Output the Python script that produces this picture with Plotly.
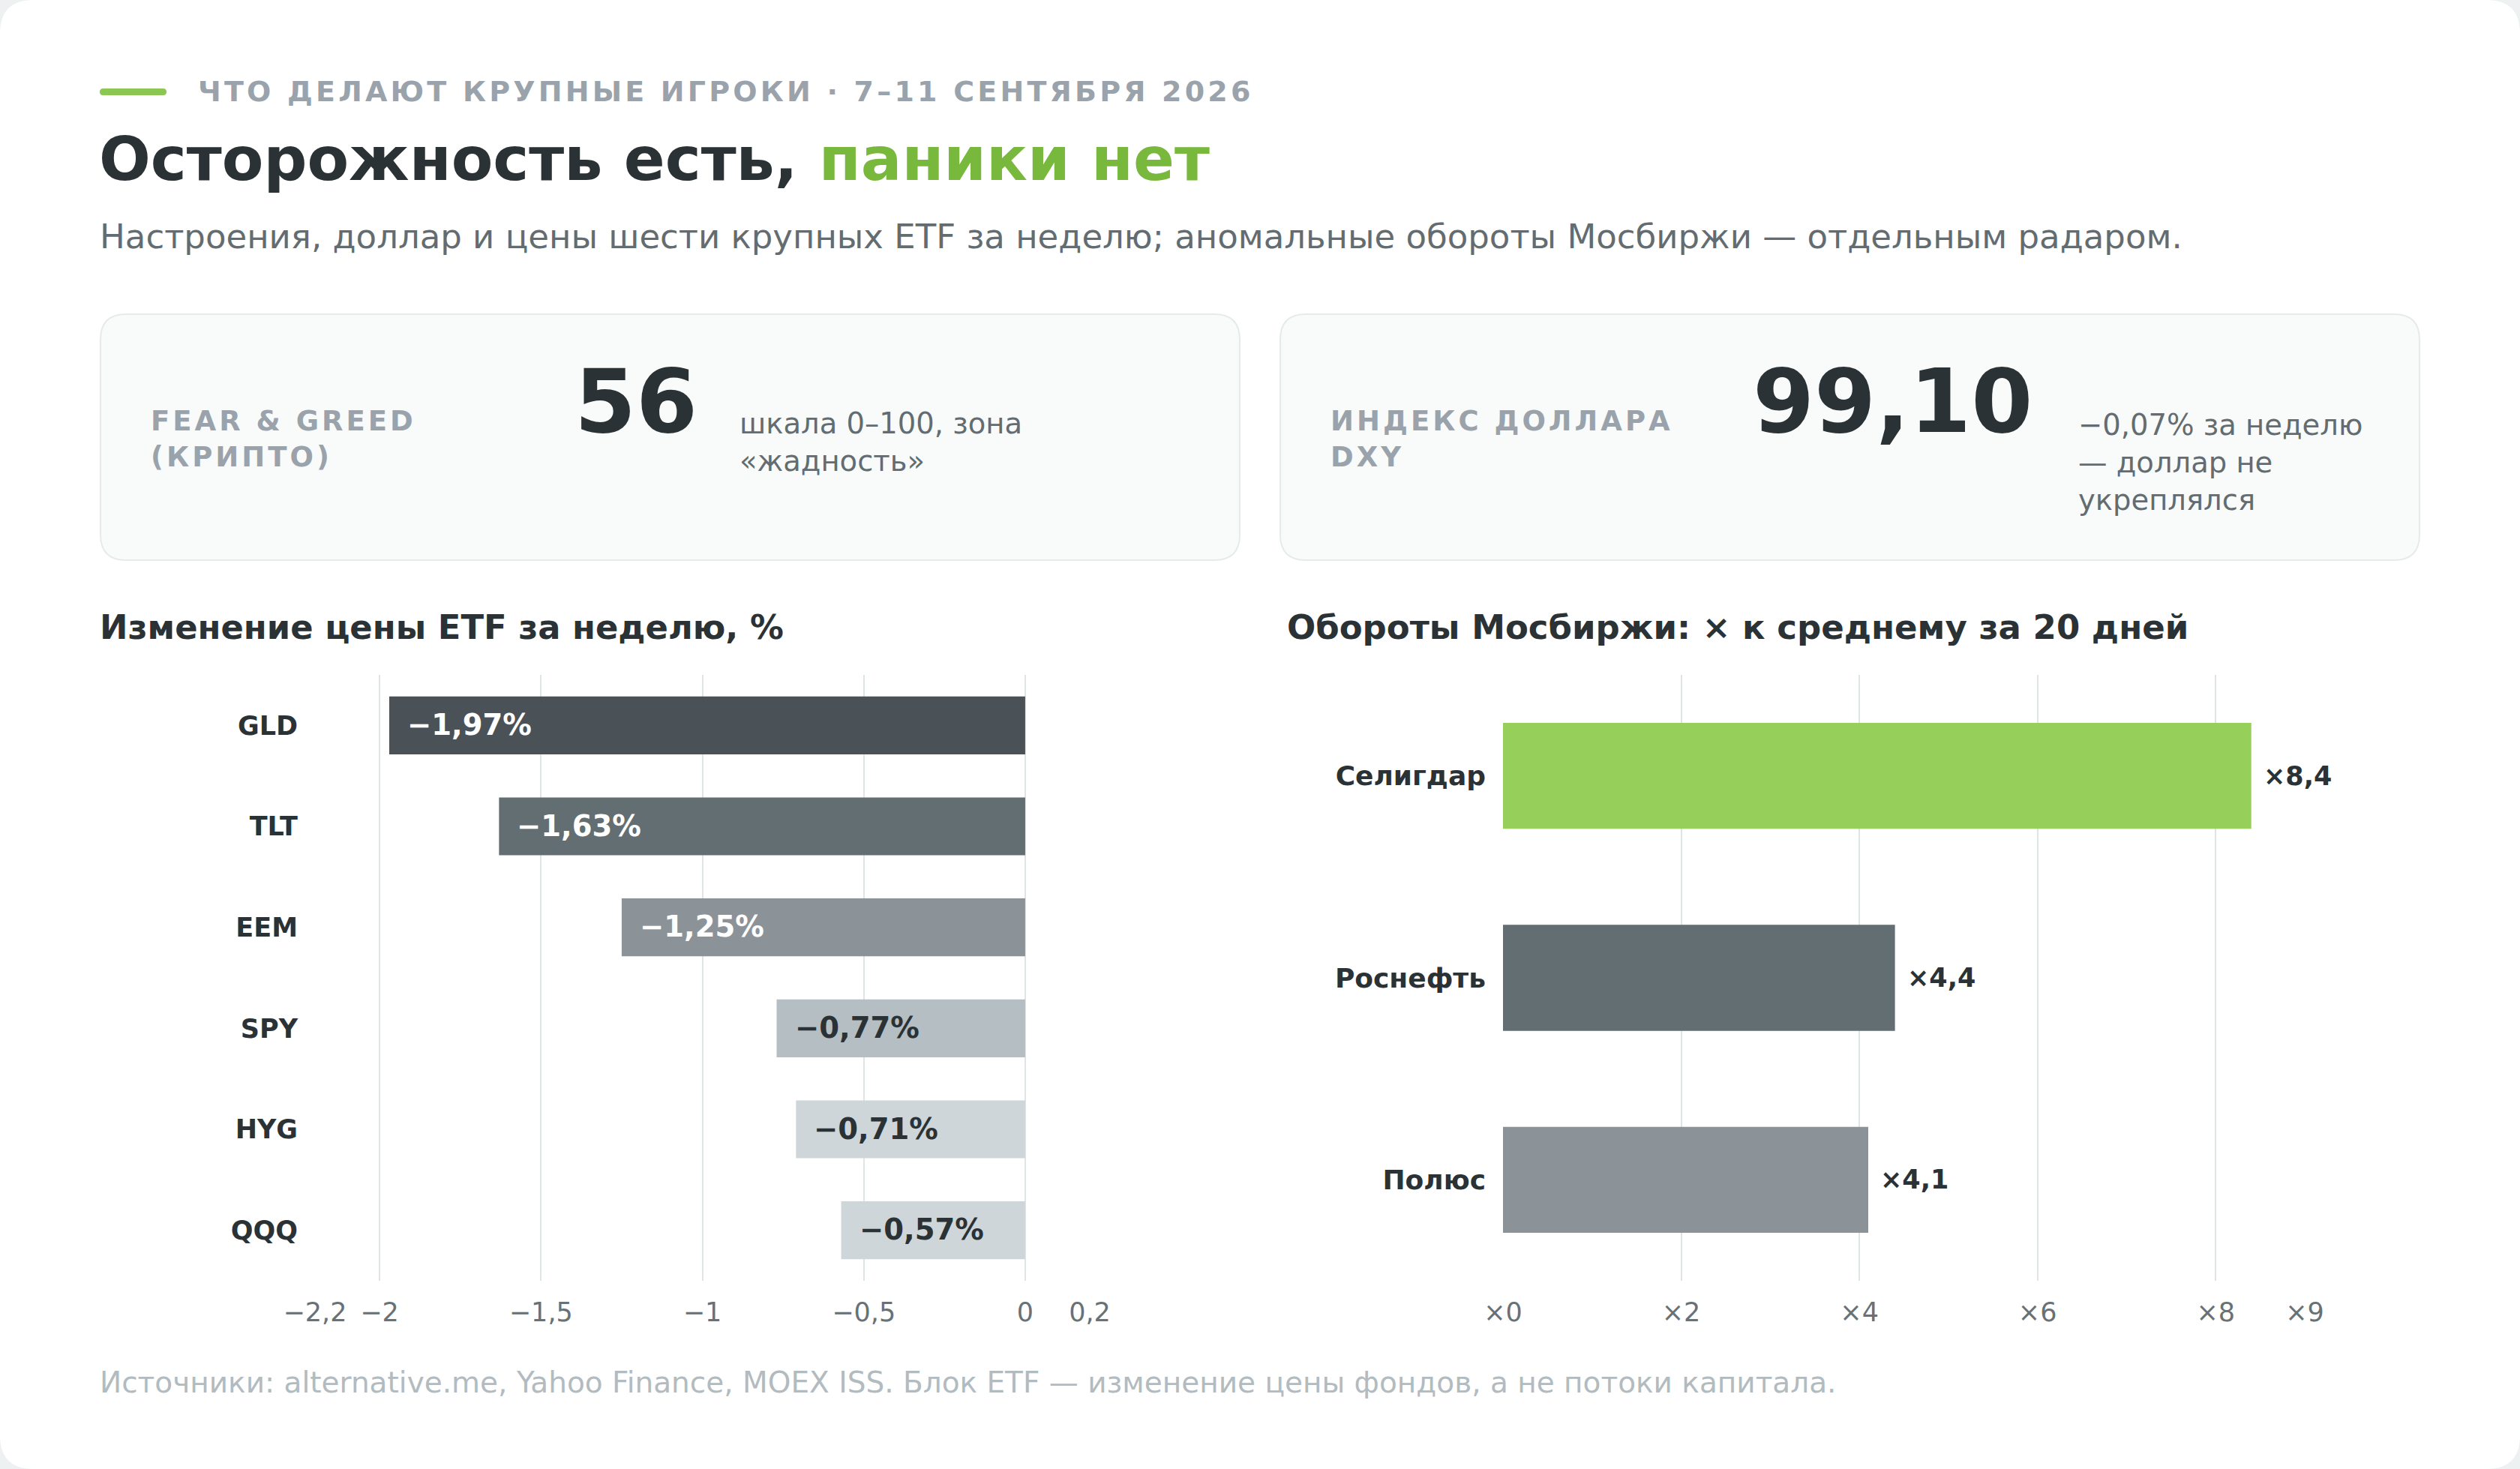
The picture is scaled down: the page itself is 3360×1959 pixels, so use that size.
import plotly.graph_objects as go

# ---------------- data ----------------
etf_tickers = ["GLD", "TLT", "EEM", "SPY", "HYG", "QQQ"]
etf_change = [-1.97, -1.63, -1.25, -0.77, -0.71, -0.57]
etf_labels = ["−1,97%", "−1,63%", "−1,25%", "−0,77%", "−0,71%", "−0,57%"]
etf_colors = ["#4a5257", "#636e72", "#8b9399", "#b4bec3", "#cfd6da", "#cfd6da"]
etf_text_colors = ["#ffffff", "#ffffff", "#ffffff", "#2b3235", "#2b3235", "#2b3235"]
etf_tickvals = [-2.2, -2, -1.5, -1, -0.5, 0, 0.2]
etf_ticktext = ["−2,2", "−2", "−1,5", "−1", "−0,5", "0", "0,2"]

moex_names = ["Селигдар", "Роснефть", "Полюс"]
moex_ratio = [8.4, 4.4, 4.1]
moex_labels = ["×8,4", "×4,4", "×4,1"]
moex_colors = ["#97cf5b", "#636e72", "#8b9399"]
moex_tickvals = [0, 2, 4, 6, 8, 9]
moex_ticktext = ["×0", "×2", "×4", "×6", "×8", "×9"]

kicker = "ЧТО ДЕЛАЮТ КРУПНЫЕ ИГРОКИ · 7–11 СЕНТЯБРЯ 2026"
title_dark = "Осторожность есть, "
title_green = "паники нет"
subtitle = "Настроения, доллар и цены шести крупных ETF за неделю; аномальные обороты Мосбиржи — отдельным радаром."
card1_label = "FEAR & GREED<br>(КРИПТО)"
card1_value = "56"
card1_desc = "шкала 0–100, зона<br>«жадность»"
card2_label = "ИНДЕКС ДОЛЛАРА<br>DXY"
card2_value = "99,10"
card2_desc = "−0,07% за неделю<br>— доллар не<br>укреплялся"
chart1_title = "Изменение цены ETF за неделю, %"
chart2_title = "Обороты Мосбиржи: × к среднему за 20 дней"
footer = "Источники: alternative.me, Yahoo Finance, MOEX ISS. Блок ETF — изменение цены фондов, а не потоки капитала."

# ---------------- layout helpers ----------------
W, H = 3360, 1959
FONT = "DejaVu Sans"
DARK = "#2b3235"
MUTED = "#9aa3ab"
SUB = "#636c71"


def px(x):
    return x / W


def py(y):
    return 1 - y / H


def rrect(x0, y0, x1, y1, r):
    pts = [
        ("M", [(x0 + r, y0)]),
        ("L", [(x1 - r, y0)]),
        ("Q", [(x1, y0), (x1, y0 + r)]),
        ("L", [(x1, y1 - r)]),
        ("Q", [(x1, y1), (x1 - r, y1)]),
        ("L", [(x0 + r, y1)]),
        ("Q", [(x0, y1), (x0, y1 - r)]),
        ("L", [(x0, y0 + r)]),
        ("Q", [(x0, y0), (x0 + r, y0)]),
    ]
    s = ""
    for cmd, ps in pts:
        s += cmd + " " + " ".join(f"{px(a):.6f},{py(b):.6f}" for a, b in ps) + " "
    return s + "Z"


def spaced(t, sp):
    return f"<span style='letter-spacing:{sp}px'>{t}</span>"


fig = go.Figure()

fig.add_trace(go.Bar(
    x=etf_change, y=etf_tickers, orientation="h",
    marker=dict(color=etf_colors, line=dict(width=0)),
    width=0.573, xaxis="x", yaxis="y", hoverinfo="skip", showlegend=False,
))
fig.add_trace(go.Bar(
    x=moex_ratio, y=moex_names, orientation="h",
    marker=dict(color=moex_colors, line=dict(width=0)),
    width=0.525, xaxis="x2", yaxis="y2", hoverinfo="skip", showlegend=False,
))

shapes = [
    dict(type="path", xref="paper", yref="paper", path=rrect(0, 0, W, H, 45),
         fillcolor="#ffffff", line=dict(width=0), layer="below"),
    dict(type="path", xref="paper", yref="paper", path=rrect(133, 118, 222, 127, 4.5),
         fillcolor="#8cc753", line=dict(width=0), layer="below"),
    dict(type="path", xref="paper", yref="paper", path=rrect(134, 419, 1653, 747, 34),
         fillcolor="#f9fbfb", line=dict(width=2, color="#e6eaec"), layer="below"),
    dict(type="path", xref="paper", yref="paper", path=rrect(1707, 419, 3226, 747, 34),
         fillcolor="#f9fbfb", line=dict(width=2, color="#e6eaec"), layer="below"),
]

ann = []


def A(text, x, y, size, color, bold=False, yanchor="middle", **kw):
    ann.append(dict(
        text=text, x=px(x), y=py(y), xref="paper", yref="paper",
        xanchor="left", yanchor=yanchor, showarrow=False, align="left",
        font=dict(family=FONT, size=size, color=color, weight="bold" if bold else "normal"),
        **kw))


A(spaced(kicker, 4.2), 262, 122, 38, MUTED, bold=True)
A(f"{title_dark}<span style='color:#78b83c'>{title_green}</span>", 130, 212, 81, DARK, bold=True)
A(subtitle, 131, 315, 45, SUB)

A(spaced(card1_label, 4), 199, 585, 37, MUTED, bold=True)
A(card1_value, 764, 535, 118, DARK, bold=True)
A(card1_desc, 984, 589, 38.5, SUB)
A(spaced(card2_label, 4), 1772, 585, 37, MUTED, bold=True)
A(card2_value, 2335, 535, 118, DARK, bold=True)
A(card2_desc, 2769, 616, 38.5, SUB)

A(chart1_title, 131, 836, 44.8, DARK, bold=True)
A(chart2_title, 1714, 836, 45, DARK, bold=True)
A(footer, 131, 1843, 39, "#b2bbc0")

# value labels on bars (positioned by axis data coordinates)
for v, cat, lab, c in zip(etf_change, etf_tickers, etf_labels, etf_text_colors):
    ann.append(dict(text=lab, x=v, y=cat, xref="x", yref="y", xanchor="left",
                    yanchor="middle", xshift=22, yshift=1, showarrow=False,
                    font=dict(family=FONT, size=38.5, color=c, weight="bold")))
for v, cat, lab in zip(moex_ratio, moex_names, moex_labels):
    ann.append(dict(text=lab, x=v, y=cat, xref="x2", yref="y2", xanchor="left",
                    yanchor="middle", xshift=14, showarrow=False,
                    font=dict(family=FONT, size=35, color=DARK, weight="bold")))

GRID = "#dfe4e7"
ydom = [py(1708), py(900)]

fig.update_layout(
    width=W, height=H, autosize=False,
    margin=dict(l=0, r=0, t=0, b=0, pad=0, autoexpand=False),
    paper_bgcolor="#eef1f2", plot_bgcolor="rgba(0,0,0,0)",
    font=dict(family=FONT),
    shapes=shapes, annotations=ann,
    bargap=0.4,
    xaxis=dict(domain=[px(420), px(1453)], range=[-2.2, 0.2], tickvals=etf_tickvals,
               ticktext=etf_ticktext, showgrid=True, gridcolor=GRID, gridwidth=2,
               zeroline=False, showline=False, ticks="", ticklabelstandoff=18,
               automargin=False,
               tickfont=dict(size=35, color="#687176"), anchor="y", fixedrange=True),
    yaxis=dict(domain=ydom, categoryorder="array", categoryarray=etf_tickers,
               autorange="reversed", showgrid=False, zeroline=False, showline=False,
               ticks="", ticklabelstandoff=22, automargin=False,
               tickfont=dict(size=35, color=DARK, weight="bold"), anchor="x", fixedrange=True),
    xaxis2=dict(domain=[px(2004), px(3073)], range=[0, 9], tickvals=moex_tickvals,
                ticktext=moex_ticktext, showgrid=True, gridcolor=GRID, gridwidth=2,
                zeroline=False, showline=False, ticks="", ticklabelstandoff=18,
                automargin=False,
                tickfont=dict(size=35, color="#687176"), anchor="y2", fixedrange=True),
    yaxis2=dict(domain=ydom, categoryorder="array", categoryarray=moex_names,
                autorange="reversed", showgrid=False, zeroline=False, showline=False,
                ticks="", ticklabelstandoff=22, automargin=False,
                tickfont=dict(size=36, color=DARK, weight="bold"), anchor="x2", fixedrange=True),
)

fig.write_html("out.html", config={"displayModeBar": False},
               post_script="document.body.style.margin='0';document.body.style.overflow='hidden';")
